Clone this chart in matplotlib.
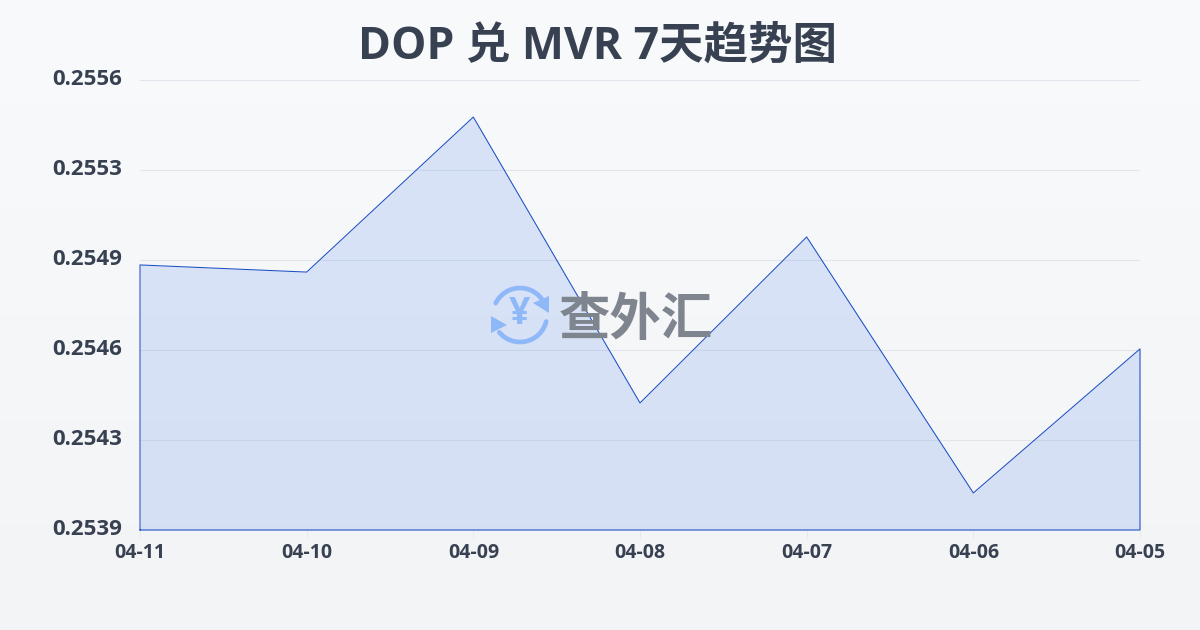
import numpy as np
import matplotlib
matplotlib.use('Agg')
import matplotlib.pyplot as plt
from matplotlib.patches import Arc, Polygon
from matplotlib.transforms import ScaledTranslation

plt.rcParams['font.family'] = ['Open Sans', 'Noto Sans CJK SC', 'DejaVu Sans']

# data
dates = ['04-11', '04-10', '04-09', '04-08', '04-07', '04-06', '04-05']
rates = [0.254906, 0.25488, 0.255445, 0.254403, 0.255008, 0.254075, 0.2546]
y_ticks = [0.25394, 0.254268, 0.254596, 0.254924, 0.255252, 0.25558]
y_labels = ['0.2539', '0.2543', '0.2546', '0.2549', '0.2553', '0.2556']

W, H = 1200, 630
fig = plt.figure(figsize=(W / 100, H / 100), dpi=100)

# background gradient
bg = fig.add_axes([0, 0, 1, 1], zorder=0)
top_c = np.array(matplotlib.colors.to_rgb('#f8fafc'))
bot_c = np.array(matplotlib.colors.to_rgb('#f3f4f6'))
t = np.linspace(0, 1, 256)[:, None, None]
bg.imshow(top_c[None, None, :] * (1 - t) + bot_c[None, None, :] * t, aspect='auto', extent=[0, W, H, 0])
bg.set_xlim(0, W)
bg.set_ylim(H, 0)
bg.axis('off')

ax = fig.add_axes([140 / W, 1 - 530 / H, 1000 / W, 450 / H], zorder=1)
ax.patch.set_alpha(0)
x = np.arange(len(dates))
ax.set_xlim(0, len(dates) - 1)
ax.set_ylim(y_ticks[0], y_ticks[-1])

ax.fill_between(x, rates, y_ticks[0], color='#2563eb', alpha=0.14, lw=0, zorder=2)
ax.plot(np.r_[x[0], x, x[-1], x[0]], np.r_[y_ticks[0], rates, y_ticks[0], y_ticks[0]],
        color='#1d4fc4', lw=0.75, zorder=4, clip_on=False)

ax.set_yticks(y_ticks)
ax.set_yticklabels(y_labels, fontsize=16, fontweight='bold', color='#374151')
ax.set_xticks(x)
ax.set_xticklabels(dates, fontsize=14, fontweight='bold', color='#374151')
ax.tick_params(axis='y', length=0, pad=13)
ax.tick_params(axis='x', length=6, width=0.6, color='#e5e7eb', pad=3)
# y labels sit a little above their grid lines
up = ScaledTranslation(0, 3 / 100, fig.dpi_scale_trans)
for lab in ax.get_yticklabels():
    lab.set_transform(lab.get_transform() + up)
ax.grid(axis='y', color='#e2e6ec', lw=0.8, zorder=1)
ax.set_axisbelow(True)
for s in ax.spines.values():
    s.set_visible(False)

fig.text(598 / W, 1 - 47 / H, 'DOP 兑 MVR 7天趋势图', fontsize=32, fontweight='bold',
         color='#374151', ha='center', va='center', zorder=3)

# watermark logo, in pixel coordinates on an overlay
ov = fig.add_axes([0, 0, 1, 1], zorder=3)
ov.set_xlim(0, W)
ov.set_ylim(H, 0)
ov.axis('off')
ov.patch.set_alpha(0)
blue = '#8fb8f8'
ov.add_patch(Arc((520, 315), 54, 54, theta1=206, theta2=323, color=blue, lw=3.4, capstyle='round'))
ov.add_patch(Arc((520, 315), 54, 54, theta1=14, theta2=140, color=blue, lw=3.4, capstyle='round'))
ov.add_patch(Polygon([[549, 296], [549, 313], [533, 303]], color=blue, lw=0))
ov.add_patch(Polygon([[491, 316], [491, 333], [507, 325]], color=blue, lw=0))
ov.text(520, 314, '¥', fontsize=27, fontweight='bold', color=blue, ha='center', va='center')
ov.text(636, 322, '查外汇', fontsize=37, fontweight='bold', color='#7f858f', ha='center', va='center')

fig.savefig('out.png', dpi=100)
